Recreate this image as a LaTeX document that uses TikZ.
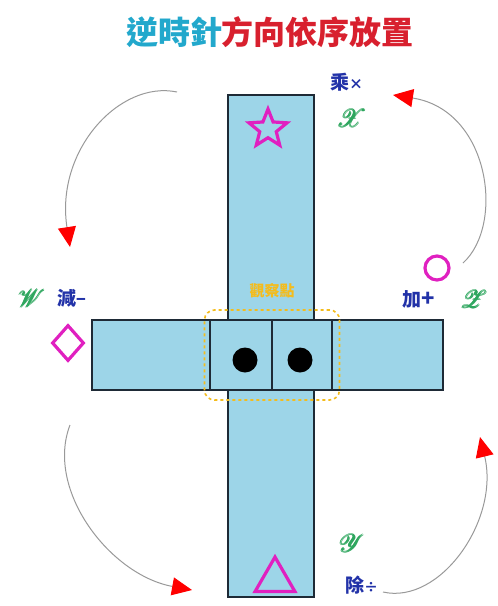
\documentclass[tikz,border=0pt]{standalone}
\usepackage{amsmath,amsbsy}
\usepackage{fontspec}
\usepackage{mathrsfs}
\newfontfamily\cjk{Noto Sans CJK TC}
\usetikzlibrary{shapes.geometric,arrows.meta}
\definecolor{barblue}{HTML}{9DD5E8}
\definecolor{edge}{HTML}{1E2A36}
\definecolor{mag}{HTML}{E020C0}
\definecolor{lblue}{HTML}{2232A8}
\definecolor{sgreen}{HTML}{2EA65E}
\definecolor{tcyan}{HTML}{22A8CC}
\definecolor{tred}{HTML}{D8202E}
\definecolor{gold}{HTML}{F4BC1C}
\tikzset{
  bar/.style={draw=edge, line width=1.8pt, fill=barblue, inner sep=0pt},
  sym/.style={draw=mag, line width=3.2pt, inner sep=0pt},
  lbl/.style={text=lblue, font=\cjk\bfseries\fontsize{19}{19}\selectfont, inner sep=0pt},
  scr/.style={text=sgreen, font=\fontsize{34}{34}\selectfont, inner sep=0pt},
  turn/.style={draw=gray!80, line width=1pt, -{Triangle[color=red, length=20pt, width=18pt]}},
}
\begin{document}
\begin{tikzpicture}[x=1pt,y=-1pt]
\useasboundingbox (0,0) rectangle (498,606);
% title
\node[inner sep=0pt, font=\cjk\bfseries\fontsize{32}{32}\selectfont] (title) at (270,32)
  {\textcolor{tcyan}{逆時針}\textcolor{tred}{方向依序放置}};
% bars
\node[bar, minimum width=86, minimum height=502] (vbar) at (271,346) {};
\node[bar, minimum width=351, minimum height=70] (hbar) at (267.5,355) {};
\node[bar, minimum width=62, minimum height=70] (sq1) at (241,355) {};
\node[bar, minimum width=60, minimum height=70] (sq2) at (302,355) {};
\node[fill=black, circle, minimum size=25, inner sep=0pt] (d1) at (245,360) {};
\node[fill=black, circle, minimum size=25, inner sep=0pt] (d2) at (300,360) {};
% observation box
\node[draw=gold, dashed, line width=1.6pt, rounded corners=10pt, minimum width=135, minimum height=90, inner sep=0pt] (obs) at (272,355) {};
\node[text=gold, font=\cjk\bfseries\fontsize{15}{15}\selectfont, inner sep=0pt] (obst) at (272,291) {觀察點};
% symbols
\node[sym, star, star points=5, star point ratio=2.3, minimum size=40] (star) at (268,129) {};
\node[sym, diamond, minimum width=32, minimum height=36] (dia) at (68,343) {};
\node[sym, circle, minimum size=24] (circ) at (437,268) {};
\node[sym, regular polygon, regular polygon sides=3, minimum size=46] (tri) at (275,580) {};
% labels
\node[lbl, anchor=west] (mul) at (330,82) {乘\fontsize{14}{14}\selectfont×};
\node[scr] (sx) at (352,118) {$\pmb{\mathscr{X}}$};
\node[lbl, anchor=west] (sub) at (57,298) {減\fontsize{16}{16}\selectfont −};
\node[scr] (sw) at (32,298) {$\pmb{\mathscr{W}}$};
\node[lbl, anchor=west] (add) at (402,299) {加\fontsize{22}{22}\selectfont +};
\node[scr] (sz) at (474,299) {$\pmb{\mathscr{Z}}$};
\node[scr] (sy) at (352,543) {$\pmb{\mathscr{Y}}$};
\node[lbl, anchor=west] (div) at (345,585) {除\fontsize{14}{14}\selectfont÷};
% turning arrows
\coordinate (a1s) at (177,92);
\coordinate (a1e) at (70,247);
\coordinate (a2s) at (70,425);
\coordinate (a2e) at (192,590);
\coordinate (a3s) at (383,592);
\coordinate (a3e) at (480,437);
\coordinate (a4s) at (463,263);
\coordinate (a4e) at (393,95);
\draw[turn] (a1s) .. controls (120,80) and (55,150) .. (a1e);
\draw[turn] (a2s) .. controls (45,490) and (110,575) .. (a2e);
\draw[turn] (a3s) .. controls (440,605) and (500,520) .. (a3e);
\draw[turn] (a4s) .. controls (505,225) and (490,110) .. (a4e);
\end{tikzpicture}
\end{document}
